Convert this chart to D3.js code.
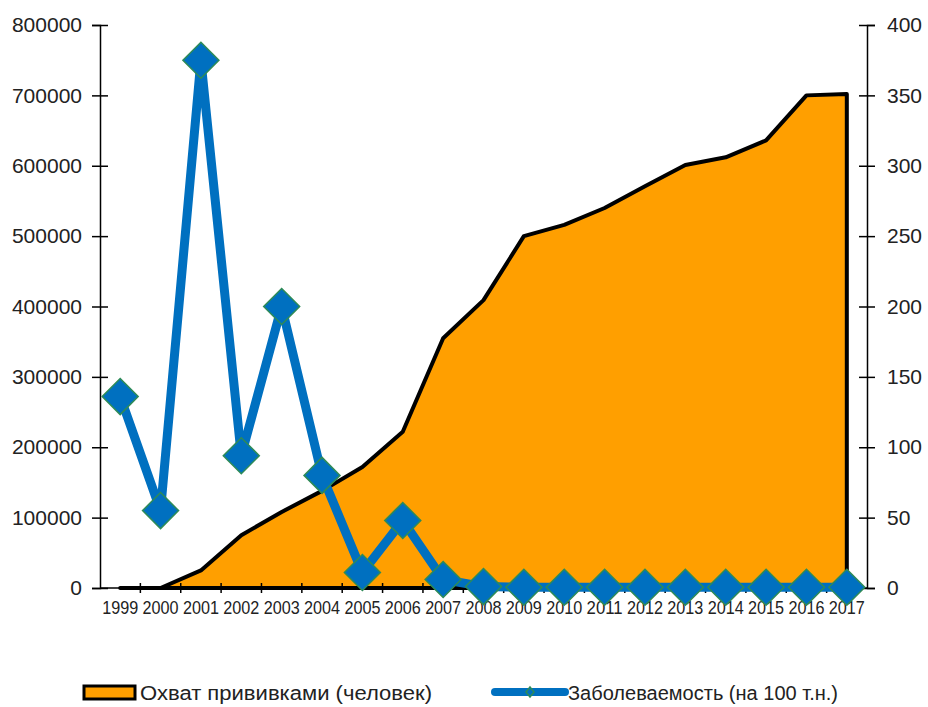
<!DOCTYPE html>
<html>
<head>
<meta charset="utf-8">
<script src="https://cdn.jsdelivr.net/npm/d3@7"></script>
<style>
  body { margin: 0; background: #fff; }
  text { font-family: "Liberation Sans", Arial, sans-serif; fill: #222; }
</style>
</head>
<body>
<svg id="canvas" width="928" height="707"></svg>
<script>
let years = ['1999','2000','2001','2002','2003','2004','2005','2006','2007','2008',
             '2009','2010','2011','2012','2013','2014','2015','2016','2017']
let coverage = [0, 0, 25000, 75000, 108000, 138000, 172000, 222000, 355000, 409000,
                500000, 516000, 540000, 571000, 601000, 612000, 636000, 700000, 702000]
let incidence = [136, 55, 375, 94, 200, 80, 11, 48, 6, 1,
                 0.5, 0.5, 0.5, 0.5, 0.5, 0.5, 0.5, 0.5, 0.5]
let leftTicks = [0, 100000, 200000, 300000, 400000, 500000, 600000, 700000, 800000]
let rightTicks = [0, 50, 100, 150, 200, 250, 300, 350, 400]
let legendLabels = ['Охват  прививками (человек)', 'Заболеваемость (на 100 т.н.)']

let canvas = d3.select('#canvas')

let x = d3.scaleBand().domain(years).range([100, 867])
let cx = (d) => x(d) + x.bandwidth() / 2
let yLeft = d3.scaleLinear().domain([0, 800000]).range([588, 25])
let yRight = d3.scaleLinear().domain([0, 400]).range([588, 25])

// area (closed polygon, stroked all round)
let areaGen = d3.area()
    .x((d, i) => cx(years[i]))
    .y0(yLeft(0))
    .y1((d) => yLeft(d))

canvas.append('path')
      .datum(coverage)
      .attr('d', areaGen)
      .attr('fill', '#FF9F00')
      .attr('stroke', '#000')
      .attr('stroke-width', 4)
      .attr('stroke-linejoin', 'round')

// axes
let leftAxis = d3.axisLeft(yLeft).tickValues(leftTicks).tickFormat(d3.format('d')).tickSize(8).tickPadding(10)
let la = canvas.append('g').attr('transform', 'translate(100,0)').call(leftAxis)
la.selectAll('text').style('font-size', '21px')
la.selectAll('line').attr('x2', 8).attr('x1', -8)

let rightAxis = d3.axisRight(yRight).tickValues(rightTicks).tickSize(8).tickPadding(12)
let ra = canvas.append('g').attr('transform', 'translate(867,0)').call(rightAxis)
ra.selectAll('text').style('font-size', '21px')
ra.selectAll('line').attr('x1', -8)

let bottom = canvas.append('g')
bottom.append('line')
      .attr('x1', 100).attr('x2', 867)
      .attr('y1', 588).attr('y2', 588)
      .attr('stroke', '#000').attr('stroke-width', 1.5)
bottom.selectAll('.xtick')
      .data(years.slice(1))
      .enter()
      .append('line')
      .attr('x1', (d) => x(d)).attr('x2', (d) => x(d))
      .attr('y1', 583).attr('y2', 593)
      .attr('stroke', '#000').attr('stroke-width', 1.5)
bottom.selectAll('.xlabel')
      .data(years)
      .enter()
      .append('text')
      .attr('x', (d) => cx(d))
      .attr('y', 614)
      .attr('text-anchor', 'middle')
      .attr('textLength', 36)
      .attr('lengthAdjust', 'spacingAndGlyphs')
      .style('font-size', '19px')
      .text((d) => d)

canvas.selectAll('.domain').attr('stroke', '#000').attr('stroke-width', 1.5)
canvas.selectAll('.tick line').attr('stroke', '#000').attr('stroke-width', 1.5)

// line series
let lineGen = d3.line()
    .x((d, i) => cx(years[i]))
    .y((d) => yRight(d))

canvas.append('path')
      .datum(incidence)
      .attr('d', lineGen)
      .attr('fill', 'none')
      .attr('stroke', '#0070C0')
      .attr('stroke-width', 9)
      .attr('stroke-linejoin', 'round')

let diamond = 'M0,-18L18,0L0,18L-18,0Z'
canvas.selectAll('.marker')
      .data(incidence)
      .enter()
      .append('path')
      .attr('d', diamond)
      .attr('transform', (d, i) => 'translate(' + cx(years[i]) + ',' + yRight(d) + ')')
      .attr('fill', '#0070C0')
      .attr('stroke', '#2E8B57')
      .attr('stroke-width', 1.5)

// legend
let legend = canvas.append('g')
legend.append('rect')
      .attr('x', 84).attr('y', 686).attr('width', 51).attr('height', 13)
      .attr('fill', '#FF9F00').attr('stroke', '#000').attr('stroke-width', 3)
legend.append('text')
      .attr('x', 140).attr('y', 700)
      .attr('textLength', 292)
      .attr('lengthAdjust', 'spacingAndGlyphs')
      .style('font-size', '20px')
      .text(legendLabels[0])
legend.append('line')
      .attr('x1', 495).attr('x2', 565).attr('y1', 692).attr('y2', 692)
      .attr('stroke', '#0070C0').attr('stroke-width', 8).attr('stroke-linecap', 'round')
legend.append('path')
      .attr('d', 'M0,-5L4,0L0,5L-4,0Z')
      .attr('transform', 'translate(530,692)')
      .attr('fill', '#0070C0').attr('stroke', '#2E8B57').attr('stroke-width', 1.5)
legend.append('text')
      .attr('x', 568).attr('y', 700)
      .attr('textLength', 270)
      .attr('lengthAdjust', 'spacingAndGlyphs')
      .style('font-size', '20px')
      .text(legendLabels[1])
</script>
</body>
</html>
